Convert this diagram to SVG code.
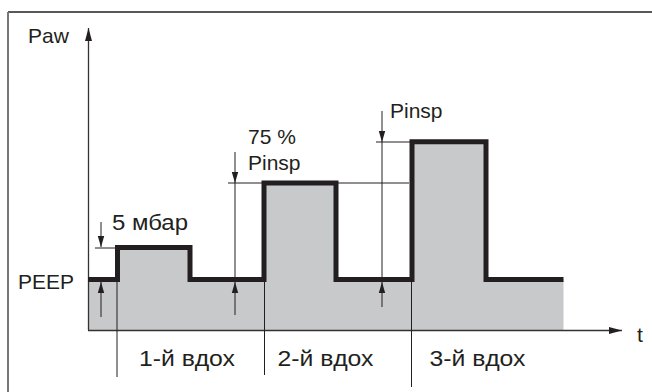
<svg xmlns="http://www.w3.org/2000/svg" width="652" height="392" viewBox="0 0 652 392">
<style>
.t{font-family:"Liberation Sans",Arial,sans-serif;font-size:21px;fill:#231f20}
.c{font-size:22px}
.thin{stroke:#231f20;stroke-width:1;fill:none}
.axis{stroke:#333;stroke-width:1.3;fill:none}
</style>
<defs>
<marker id="ah" markerUnits="userSpaceOnUse" markerWidth="12" markerHeight="8" refX="11" refY="4" orient="auto">
<path d="M0,0.8 L11,4 L0,7.2 Z" fill="#231f20"/>
</marker>
<marker id="axh" markerUnits="userSpaceOnUse" markerWidth="14" markerHeight="8" refX="13" refY="4" orient="auto">
<path d="M0,0.5 L13,4 L0,7.5 Z" fill="#231f20"/>
</marker>
</defs>
<rect width="652" height="392" fill="#fff"/>
<g id="frame">
<line x1="8" y1="12" x2="652" y2="12" stroke="#231f20" stroke-width="1.5"/>
<line x1="8" y1="12" x2="8" y2="392" stroke="#777" stroke-width="2"/>
</g>
<g id="area">
<path d="M88,330 L88,279.5 L117.5,279.5 L117.5,247.5 L190,247.5 L190,279.5 L264,279.5 L264,183 L336,183 L336,279.5 L412,279.5 L412,141.7 L486,141.7 L486,279.5 L563.5,279.5 L563.5,330 Z" fill="#c8c9cb"/>
</g>
<g id="connectors">
<line class="axis" x1="88.5" y1="330" x2="88.5" y2="28" marker-end="url(#axh)"/>
<line class="axis" x1="88" y1="330.5" x2="622" y2="330.5" marker-end="url(#axh)"/>
<line class="thin" x1="117" y1="250" x2="117" y2="377"/>
<line class="thin" x1="264.5" y1="282" x2="264.5" y2="375"/>
<line class="thin" x1="411.5" y1="282" x2="411.5" y2="387"/>
<line class="thin" x1="95" y1="248" x2="117" y2="248"/>
<line class="thin" x1="101" y1="222" x2="101" y2="247" marker-end="url(#ah)"/>
<line class="thin" x1="101" y1="317" x2="101" y2="282" marker-end="url(#ah)"/>
<line class="thin" x1="228" y1="183" x2="262" y2="183"/>
<line class="thin" x1="235" y1="152" x2="235" y2="183" marker-end="url(#ah)"/>
<line class="thin" x1="235" y1="183" x2="235" y2="282"/>
<line class="thin" x1="235" y1="315" x2="235" y2="282" marker-end="url(#ah)"/>
<line class="thin" x1="338" y1="183" x2="409" y2="183"/>
<line class="thin" x1="376" y1="142" x2="410" y2="142"/>
<line class="thin" x1="382" y1="111" x2="382" y2="142" marker-end="url(#ah)"/>
<line class="thin" x1="382" y1="142" x2="382" y2="282"/>
<line class="thin" x1="382" y1="307" x2="382" y2="282" marker-end="url(#ah)"/>
</g>
<g id="wave">
<path d="M88,279.5 L117.5,279.5 L117.5,247.5 L190,247.5 L190,279.5 L264,279.5 L264,183 L336,183 L336,279.5 L412,279.5 L412,141.7 L486,141.7 L486,279.5 L563.5,279.5" fill="none" stroke="#231f20" stroke-width="5" stroke-linejoin="miter"/>
</g>
<g id="labels">
<text class="t" x="28" y="43">Paw</text>
<text class="t" x="18" y="289">PEEP</text>
<text class="t c" x="112" y="230" textLength="76" lengthAdjust="spacingAndGlyphs">5 мбар</text>
<text class="t" x="248" y="144">75 %</text>
<text class="t" x="248" y="170">Pinsp</text>
<text class="t" x="390" y="118">Pinsp</text>
<text class="t c" x="139" y="366" textLength="96" lengthAdjust="spacingAndGlyphs">1-й вдох</text>
<text class="t c" x="277.5" y="366" textLength="96" lengthAdjust="spacingAndGlyphs">2-й вдох</text>
<text class="t c" x="429.5" y="366" textLength="96" lengthAdjust="spacingAndGlyphs">3-й вдох</text>
<text class="t" x="637" y="342">t</text>
</g>
</svg>
